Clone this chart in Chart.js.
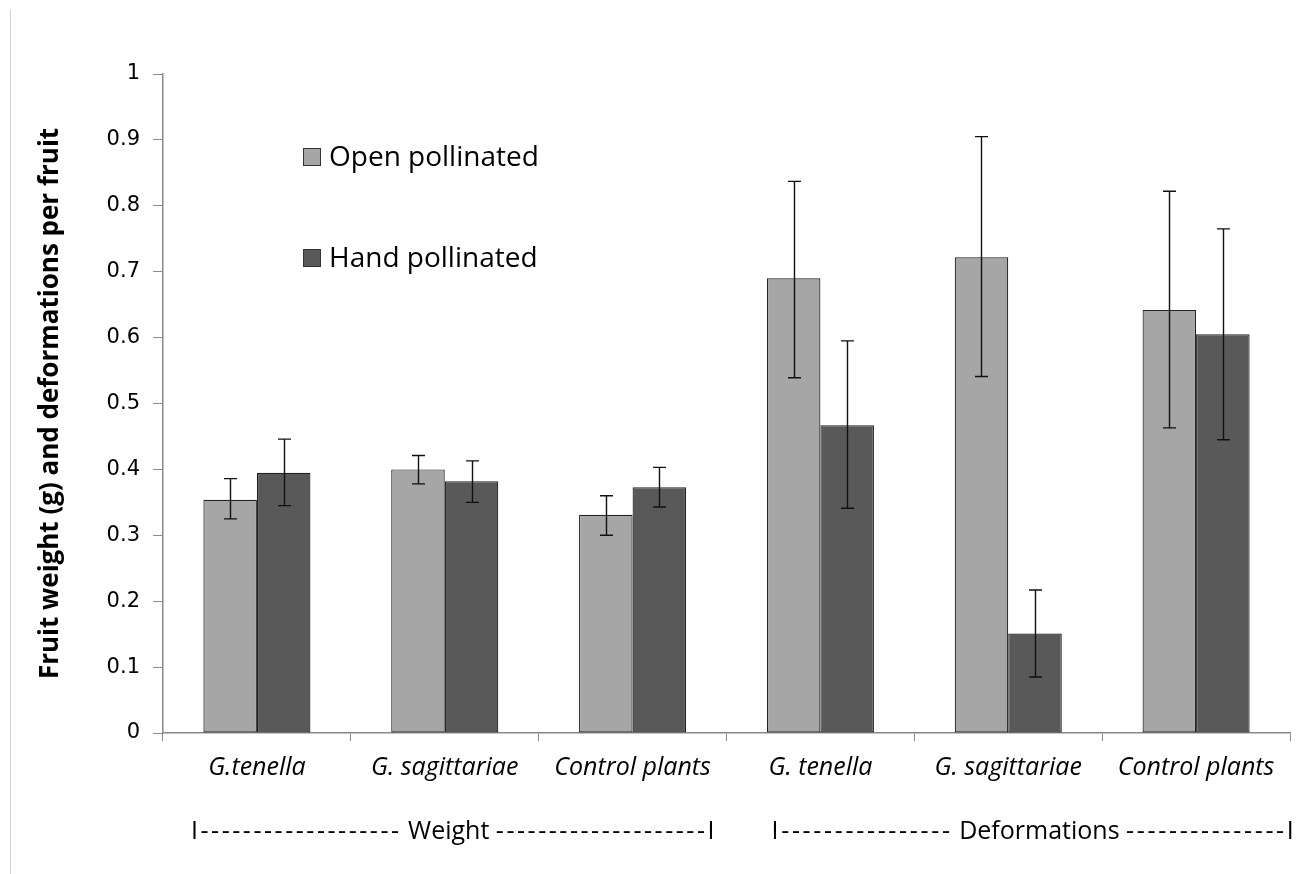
<!DOCTYPE html>
<html>
<head>
<meta charset="utf-8">
<script src="https://cdn.jsdelivr.net/npm/chart.js@4.4.1/dist/chart.umd.min.js"></script>
<style>
html, body { margin: 0; padding: 0; background: #fff; }
#wrap { width: 1311px; height: 874px; position: relative; }
</style>
</head>
<body>
<div id="wrap"><canvas id="chart" width="1311" height="874"></canvas></div>
<script>
const categories = ['G.tenella', 'G. sagittariae', 'Control plants', 'G. tenella', 'G. sagittariae', 'Control plants'];
const openVals = [0.354, 0.400, 0.331, 0.690, 0.722, 0.642];
const openLow  = [0.325, 0.378, 0.300, 0.539, 0.541, 0.463];
const openHigh = [0.386, 0.421, 0.360, 0.837, 0.905, 0.822];
const handVals = [0.395, 0.382, 0.373, 0.467, 0.151, 0.605];
const handLow  = [0.345, 0.350, 0.343, 0.341, 0.085, 0.445];
const handHigh = [0.446, 0.413, 0.403, 0.595, 0.217, 0.765];
const yTicks = [0, 0.1, 0.2, 0.3, 0.4, 0.5, 0.6, 0.7, 0.8, 0.9, 1];
const groupLabels = [
  'I------------------- Weight --------------------I',
  'I---------------- Deformations ---------------I'
];

const errors = [[openLow, openHigh], [handLow, handHigh]];

const extras = {
  id: 'extras',
  afterDatasetsDraw(chart) {
    const ctx = chart.ctx;
    const y = chart.scales.y;
    ctx.save();
    ctx.strokeStyle = '#111';
    ctx.lineWidth = 1.4;
    chart.data.datasets.forEach((ds, di) => {
      const meta = chart.getDatasetMeta(di);
      meta.data.forEach((bar, i) => {
        const lo = y.getPixelForValue(errors[di][0][i]);
        const hi = y.getPixelForValue(errors[di][1][i]);
        const x = Math.round(bar.x) + 0.5;
        ctx.beginPath();
        ctx.moveTo(x, lo); ctx.lineTo(x, hi);
        ctx.moveTo(x - 6.5, lo); ctx.lineTo(x + 6.5, lo);
        ctx.moveTo(x - 6.5, hi); ctx.lineTo(x + 6.5, hi);
        ctx.stroke();
      });
    });
    ctx.restore();
  },
  afterDraw(chart) {
    const ctx = chart.ctx;
    const x = chart.scales.x;
    ctx.save();
    // frame line on the left
    ctx.strokeStyle = '#d0d0d0';
    ctx.lineWidth = 1;
    ctx.beginPath();
    ctx.moveTo(10.5, 10); ctx.lineTo(10.5, 874);
    ctx.stroke();

    // legend inside the plot
    ctx.font = '28px "Open Sans"';
    ctx.textBaseline = 'middle';
    ctx.textAlign = 'left';
    chart.data.datasets.forEach((ds, i) => {
      const cy = [157, 258][i];
      ctx.fillStyle = ds.backgroundColor;
      ctx.fillRect(303, cy - 9, 18, 18);
      ctx.strokeStyle = '#333';
      ctx.lineWidth = 1;
      ctx.strokeRect(303.5, cy - 8.5, 17, 17);
      ctx.fillStyle = '#000';
      ctx.fillText(ds.label, 329, cy + 1);
    });

    // group labels under the axis: the dashes are spread so each label spans its group
    const step = x.getPixelForValue(1) - x.getPixelForValue(0);
    ctx.font = '25px "Open Sans"';
    ctx.textAlign = 'left';
    groupLabels.forEach((txt, g) => {
      let left = x.getPixelForValue(g * 3) - step / 2 + [28, 45][g];
      const target = [526, 525][g];
      const m = txt.match(/^(I-+)( \S+ )(-+I)$/);
      const parts = [m[1], m[2], m[3]];
      ctx.letterSpacing = '0px';
      const natural = parts.reduce((s, p) => s + ctx.measureText(p).width, 0);
      const dashChars = m[1].length + m[3].length;
      const sp = (target - natural) / dashChars;
      parts.forEach((p, k) => {
        ctx.letterSpacing = (k === 1 ? 0 : sp) + 'px';
        ctx.fillText(p, left, 832);
        left += ctx.measureText(p).width;
      });
    });
    ctx.restore();
  }
};

new Chart(document.getElementById('chart').getContext('2d'), {
  type: 'bar',
  data: {
    labels: categories,
    datasets: [{
      label: 'Open pollinated',
      data: openVals,
      backgroundColor: '#a6a6a6',
      borderColor: '#222',
      borderWidth: 1.2,
      borderSkipped: false
    }, {
      label: 'Hand pollinated',
      data: handVals,
      backgroundColor: '#595959',
      borderColor: '#222',
      borderWidth: 1.2,
      borderSkipped: false
    }]
  },
  options: {
    responsive: false,
    animation: false,
    devicePixelRatio: 1,
    categoryPercentage: 0.57,
    barPercentage: 1,
    layout: { padding: { top: 74, right: 21, left: 0, bottom: 0 } },
    plugins: {
      legend: { display: false },
      tooltip: { enabled: false }
    },
    scales: {
      x: {
        afterFit: s => { s.height = 141; },
        grid: { drawOnChartArea: false, color: '#898989', tickLength: 8, offset: true },
        border: { color: '#898989', width: 1.5 },
        ticks: {
          color: '#000',
          padding: 12,
          font: { family: 'Open Sans', size: 25, style: 'italic' }
        }
      },
      y: {
        min: 0,
        max: 1,
        afterFit: s => { s.width = 163; },
        afterBuildTicks: s => { s.ticks = yTicks.map(v => ({ value: v })); },
        grid: { drawOnChartArea: false, color: '#898989', tickLength: 10 },
        border: { color: '#898989', width: 1.5 },
        ticks: {
          color: '#000',
          padding: 13,
          font: { family: 'DejaVu Sans', size: 21 },
          callback: v => String(Math.round(v * 10) / 10)
        },
        title: {
          display: true,
          text: 'Fruit weight (g) and deformations per fruit',
          color: '#000',
          padding: { top: 35, bottom: 0 },
          font: { family: 'Open Sans', size: 26, weight: 'bold' }
        }
      }
    }
  },
  plugins: [extras]
});
</script>
</body>
</html>
